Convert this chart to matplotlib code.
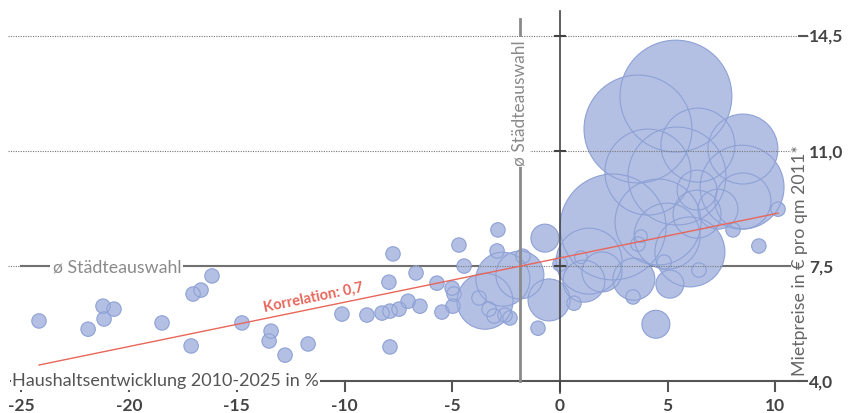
import matplotlib
matplotlib.use("Agg")
import matplotlib.pyplot as plt

# ---------------------------------------------------------
# Daten: Haushaltsentwicklung 2010-2025 (%), Mietpreis 2011 (EUR/qm),
# Einwohner (Tsd., bestimmt die Blasengroesse)
# ---------------------------------------------------------
haushalte = [
    -24.18, -21.90, -21.21, -20.70, -21.16, -18.47, -17.12, -17.03, -16.66, -16.15,
    -14.76, -13.41, -13.50, -12.76, -11.69, -10.12, -8.96, -8.26, -7.89, -7.47,
    -7.94, -7.75, -7.89, -7.05, -6.50, -6.68, -5.71, -5.48, -5.01, -4.92,
    -4.97, -4.69, -4.45, -2.88, -2.92, -3.76, -3.29, -3.06, -2.55, -2.32,
    -1.72, -1.02, -3.48, -2.65, -1.86, -0.70, -0.51,
    5.38, 3.62, 6.40, 8.49, 4.08, 5.43, 8.45, 6.36, 8.49, 2.46,
    4.55, 4.97, 6.36, 7.33, 6.03, 1.35, 1.11, 1.95, 3.43, 5.10,
    4.45, 3.76, 3.62, 4.83, 6.45, 3.39, 0.65, 0.00, 0.97, 8.03,
    10.12, 9.23,
]
mietpreis = [
    5.83, 5.58, 6.28, 6.19, 5.89, 5.77, 5.07, 6.65, 6.77, 7.20,
    5.77, 5.52, 5.22, 4.79, 5.13, 6.04, 6.01, 6.07, 6.13, 6.19,
    7.01, 7.87, 5.04, 6.43, 6.28, 7.29, 6.98, 6.10, 6.83, 6.65,
    6.28, 8.14, 7.50, 8.60, 7.96, 6.53, 6.19, 5.98, 6.01, 5.92,
    7.80, 5.61, 6.43, 7.10, 7.23, 8.35, 6.47,
    12.67, 11.67, 11.18, 11.06, 10.36, 10.24, 9.90, 9.81, 9.48, 8.69,
    8.84, 8.41, 9.08, 9.23, 7.93, 7.65, 7.04, 7.32, 7.10, 6.95,
    5.73, 8.41, 8.17, 7.62, 7.38, 6.56, 6.37, 7.56, 7.77, 8.60,
    9.23, 8.11,
]
einwohner = [
    52, 52, 52, 52, 52, 52, 52, 52, 52, 52,
    52, 52, 52, 52, 52, 52, 52, 52, 52, 52,
    52, 52, 52, 52, 52, 52, 52, 52, 52, 52,
    52, 52, 52, 52, 52, 52, 52, 52, 52, 52,
    52, 52, 784, 729, 576, 196, 441,
    3136, 2916, 1369, 1225, 1849, 2401, 1764, 400, 784, 2809,
    1849, 1089, 576, 400, 1225, 1089, 441, 400, 441, 196,
    196, 40, 52, 52, 52, 52, 52, 52, 40, 52,
    52, 52,
]

# Durchschnitt der Staedteauswahl
mittel_x = -1.86
mittel_y = 7.5

# Regressionsgerade (Endpunkte)
trend_x = [-24.18, 10.12]
trend_y = [4.49, 9.11]

x_ticks = [-25, -20, -15, -10, -5, 0, 5, 10]
y_ticks = [4.0, 7.5, 11.0, 14.5]
y_tick_labels = ["4,0", "7,5", "11,0", "14,5"]

FILL = "#b3c0e3"
EDGE = "#8ea1d6"
GRAU = "#555555"
HELLGRAU = "#8a8a8a"
ROT = "#e8665a"

plt.rcParams["font.family"] = ["Lato", "DejaVu Sans"]

fig = plt.figure(figsize=(8.5, 4.14), dpi=100)
ax = fig.add_axes([0, 0, 1, 1])
ax.set_xlim(-25.99, 13.46)
ax.set_ylim(3.03, 15.625)
ax.axis("off")

# Blasen: erst Flaechen, dann Umrisse obendrauf
groesse = [e * 2.07 for e in einwohner]
ax.scatter(haushalte, mietpreis, s=groesse, color=FILL, edgecolors="none", zorder=2)
ax.scatter(haushalte, mietpreis, s=groesse, facecolors="none", edgecolors=EDGE,
           linewidths=0.8, zorder=3)

# Durchschnittslinie horizontal (unter den Blasen)
ax.plot([-25.0, mittel_x], [mittel_y, mittel_y], color="#6f6f6f", lw=1.5, zorder=1)
ax.plot([0, 10.67], [mittel_y, mittel_y], color="#6f6f6f", lw=1.5, zorder=1)

# gepunktete Gitterlinien
for yt in y_ticks[1:]:
    ax.plot([-25.6, 11.5], [yt, yt], color="#777777", lw=0.8, ls=(0, (1, 1.2)), zorder=4)

# x-Achse unten
ax.plot([-25.5, 11.15], [4.0, 4.0], color=GRAU, lw=1.5, zorder=4)
for xt in x_ticks:
    ax.plot([xt, xt], [4.0, 3.7], color=GRAU, lw=1.5, zorder=4)
    ax.text(xt, 3.28, f"{xt}", ha="center", va="center", fontsize=12.5,
            fontweight="bold", color="#444444")

# Nulllinie und kleine Ticks
ax.plot([0, 0], [3.65, 15.26], color="#444444", lw=1.2, zorder=5)
for yt in y_ticks[1:]:
    ax.plot([-0.25, 0.25], [yt, yt], color="#444444", lw=1.5, zorder=5)

# rechte Beschriftung
for yt, lab in zip(y_ticks, y_tick_labels):
    ax.plot([11.1, 11.45], [yt, yt], color=GRAU, lw=1.5, zorder=4)
    ax.text(11.55, yt, lab, ha="left", va="center", fontsize=12.5,
            fontweight="bold", color="#444444")

# Durchschnitt vertikal
ax.plot([mittel_x, mittel_x], [4.0, 15.02], color=HELLGRAU, lw=2, zorder=5)
ax.text(mittel_x, 12.49, "ø Städteauswahl", rotation=90, ha="center", va="center",
        fontsize=12.5, color=HELLGRAU, zorder=6,
        bbox=dict(facecolor="white", edgecolor="none", pad=1.5))
ax.text(-23.55, mittel_y, "ø Städteauswahl", ha="left", va="center",
        fontsize=12.8, color=HELLGRAU, zorder=6,
        bbox=dict(facecolor="white", edgecolor="none", pad=1.5))

# Regressionsgerade
ax.plot(trend_x, trend_y, color=ROT, lw=1, zorder=6)
ax.text(-11.46, 6.56, "Korrelation: 0,7", rotation=11.6, rotation_mode="anchor",
        ha="center", va="center", fontsize=10.5, fontweight="bold", color=ROT, zorder=6)

# Achsentitel
ax.text(-25.43, 3.87, "Haushaltsentwicklung 2010-2025 in %", ha="left", va="baseline",
        fontsize=13, color=GRAU, zorder=6,
        bbox=dict(facecolor="white", edgecolor="none", pad=1))
ax.text(11.14, 7.7, "Mietpreise in € pro qm 2011*", rotation=90, ha="center",
        va="center", fontsize=12.8, color="#666666", zorder=6,
        bbox=dict(facecolor="white", edgecolor="none", pad=1))

fig.savefig("out.png", dpi=100)
